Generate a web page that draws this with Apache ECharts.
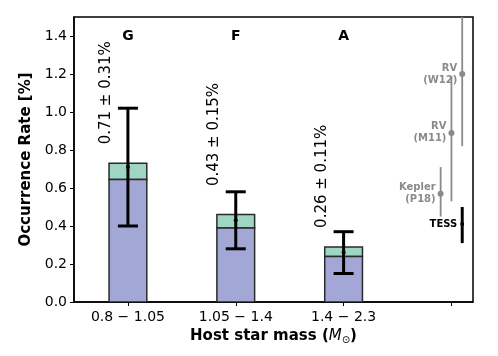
<!DOCTYPE html>
<html>
<head>
<meta charset="utf-8">
<script src="https://cdn.jsdelivr.net/npm/echarts@6/dist/echarts.min.js"></script>
<style>
  html, body { margin: 0; padding: 0; background: #fff; }
  #chart { width: 498px; height: 356px; }
</style>
</head>
<body>
<div id="chart"></div>
<script>
// 数据
const massBins = ['0.8 − 1.05', '1.05 − 1.4', '1.4 − 2.3'];
const spectralTypes = ['G', 'F', 'A'];
const rateLower = [0.645, 0.39, 0.24];   // 下层 (紫)
const rateTotal = [0.73, 0.46, 0.29];    // 总高度 (含绿色部分)
const rateMean = [0.71, 0.43, 0.26];
const rateErr = [0.31, 0.15, 0.11];
const rateText = ['0.71 ± 0.31%', '0.43 ± 0.15%', '0.26 ± 0.11%'];
const rateTextBottom = [0.83, 0.61, 0.39];

// 文献值
const litNames = ['RV\n(W12)', 'RV\n(M11)', 'Kepler\n(P18)', 'TESS'];
const litX = [3.1, 3.0, 2.9, 3.1];
const litVal = [1.2, 0.89, 0.57, 0.41];
const litLo = [0.82, 0.53, 0.45, 0.31];
const litHi = [1.6, 1.19, 0.71, 0.50];

const yTicks = [0, 0.2, 0.4, 0.6, 0.8, 1.0, 1.2, 1.4];
const xTicks = [0, 1, 2, 3];

const FONT = 'DejaVu Sans';
const chart = echarts.init(document.getElementById('chart'), null, { renderer: 'canvas' });

const barData = rateLower.map((v, i) => [i, v, rateTotal[i]]);
const errData = rateMean.map((v, i) => [i, v, v - rateErr[i], v + rateErr[i]]);
const textData = rateText.map((t, i) => [i - 0.2, rateTextBottom[i]]);
const typeData = spectralTypes.map((t, i) => [i, 1.4]);
const litData = litNames.map((n, i) => [litX[i], litVal[i], litLo[i], litHi[i]]);

function renderBar(params, api) {
  const x = api.value(0);
  const p0 = api.coord([x, 0]);
  const p1 = api.coord([x, api.value(1)]);
  const p2 = api.coord([x, api.value(2)]);
  const w = api.size([0.35, 0])[0];
  const edge = { stroke: '#2a2a2a', lineWidth: 1.5 };
  return {
    type: 'group',
    children: [
      { type: 'rect', shape: { x: p0[0] - w / 2, y: p2[1], width: w, height: p1[1] - p2[1] },
        style: Object.assign({ fill: '#9fd5c4' }, edge) },
      { type: 'rect', shape: { x: p0[0] - w / 2, y: p1[1], width: w, height: p0[1] - p1[1] },
        style: Object.assign({ fill: '#a3a7d5' }, edge) }
    ]
  };
}

function renderErr(params, api) {
  const x = api.value(0);
  const m = api.coord([x, api.value(1)]);
  const lo = api.coord([x, api.value(2)]);
  const hi = api.coord([x, api.value(3)]);
  const cap = 10;
  const st = { stroke: '#000', lineWidth: 3 };
  return {
    type: 'group',
    children: [
      { type: 'line', shape: { x1: m[0], y1: lo[1], x2: m[0], y2: hi[1] }, style: st },
      { type: 'line', shape: { x1: m[0] - cap, y1: lo[1], x2: m[0] + cap, y2: lo[1] }, style: st },
      { type: 'line', shape: { x1: m[0] - cap, y1: hi[1], x2: m[0] + cap, y2: hi[1] }, style: st },
      { type: 'circle', shape: { cx: m[0], cy: m[1], r: 2 }, style: { fill: '#000' } }
    ]
  };
}

function renderRateText(params, api) {
  const p = api.coord([api.value(0), api.value(1)]);
  return {
    type: 'text', x: p[0], y: p[1], rotation: Math.PI / 2,
    style: { text: rateText[params.dataIndex], fontFamily: FONT, fontSize: 15, fill: '#000',
      align: 'left', verticalAlign: 'middle' }
  };
}

function renderType(params, api) {
  const p = api.coord([api.value(0), api.value(1)]);
  return {
    type: 'text', x: p[0], y: p[1],
    style: { text: spectralTypes[params.dataIndex], fontFamily: FONT, fontSize: 14, fontWeight: 'bold',
      fill: '#000', align: 'center', verticalAlign: 'middle' }
  };
}

function renderLit(params, api) {
  const i = params.dataIndex;
  const x = api.value(0);
  const m = api.coord([x, api.value(1)]);
  const lo = api.coord([x, api.value(2)]);
  const hi = api.coord([x, api.value(3)]);
  const isTess = litNames[i] === 'TESS';
  const col = isTess ? '#000' : '#8a8a8a';
  return {
    type: 'group',
    children: [
      { type: 'line', shape: { x1: m[0], y1: lo[1], x2: m[0], y2: hi[1] },
        style: { stroke: col, lineWidth: isTess ? 3 : 1.8 } },
      { type: 'circle', shape: { cx: m[0], cy: m[1], r: isTess ? 2 : 3 }, style: { fill: col } },
      { type: 'text', x: m[0] - 5, y: m[1],
        style: { text: litNames[i], fontFamily: FONT, fontSize: 10, fontWeight: 'bold', fill: col,
          align: 'right', verticalAlign: 'middle', lineHeight: 12 } }
    ]
  };
}

const option = {
  animation: false,
  grid: { left: 74, right: 25, top: 17, bottom: 54, show: true, borderColor: '#000', borderWidth: 1.5 },
  xAxis: {
    type: 'value', min: -0.5, max: 3.2,
    name: '{b|Host star mass (}{i|M}{s|⊙}{b|)}',
    nameLocation: 'middle', nameGap: 25,
    nameTextStyle: {
      rich: {
        b: { fontFamily: FONT, fontSize: 15, fontWeight: 'bold', color: '#000' },
        i: { fontFamily: FONT, fontSize: 15, fontStyle: 'italic', color: '#000' },
        s: { fontFamily: FONT, fontSize: 10, color: '#000', verticalAlign: 'bottom', padding: [8, 0, 0, 0] }
      }
    },
    axisLine: { show: true, onZero: false, lineStyle: { color: '#000', width: 1.5 } },
    axisTick: { show: true, length: 4, lineStyle: { color: '#000' }, customValues: xTicks },
    axisLabel: { fontFamily: FONT, fontSize: 14, color: '#000', margin: 8,
      customValues: [0, 1, 2], formatter: v => massBins[Math.round(v)] || '' },
    splitLine: { show: false }
  },
  yAxis: {
    type: 'value', min: 0, max: 1.5,
    name: 'Occurrence Rate [%]', nameLocation: 'middle', nameGap: 37,
    nameTextStyle: { fontFamily: FONT, fontSize: 15, fontWeight: 'bold', color: '#000' },
    axisLine: { show: true, onZero: false, lineStyle: { color: '#000', width: 1.5 } },
    axisTick: { show: true, length: 4, lineStyle: { color: '#000' }, customValues: yTicks },
    axisLabel: { fontFamily: FONT, fontSize: 14, color: '#000', margin: 7,
      customValues: yTicks, formatter: v => v.toFixed(1) },
    splitLine: { show: false }
  },
  series: [
    { type: 'custom', renderItem: renderBar, data: barData, clip: true },
    { type: 'custom', renderItem: renderErr, data: errData, clip: true },
    { type: 'custom', renderItem: renderRateText, data: textData },
    { type: 'custom', renderItem: renderType, data: typeData },
    { type: 'custom', renderItem: renderLit, data: litData, clip: true }
  ]
};

chart.setOption(option);
</script>
</body>
</html>
